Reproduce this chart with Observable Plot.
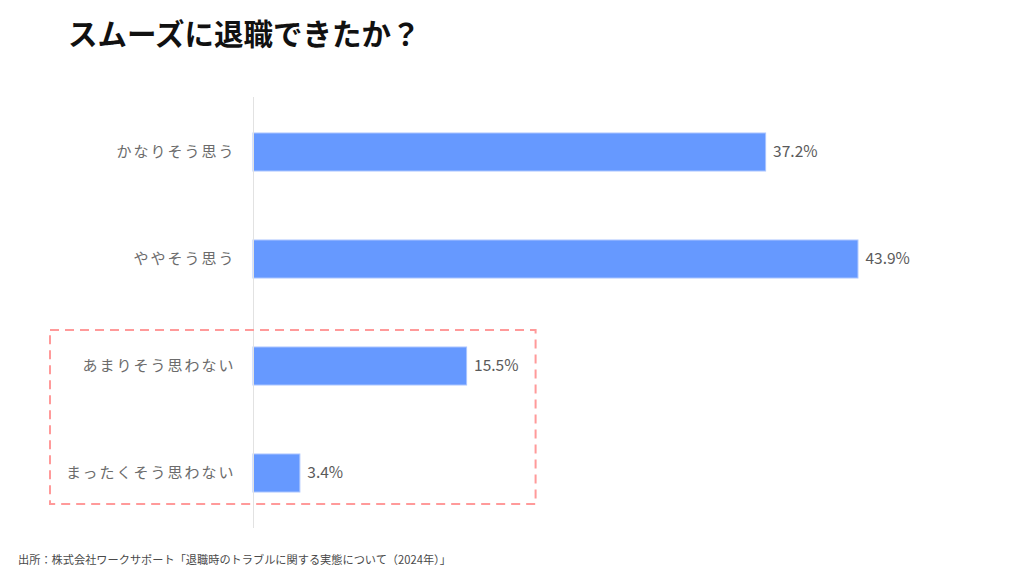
<!DOCTYPE html>
<html><head><meta charset="utf-8">
<script src="https://cdn.jsdelivr.net/npm/d3@7"></script>
<script src="https://cdn.jsdelivr.net/npm/@observablehq/plot@0.6"></script>
<style>
body{margin:0;background:#fff;font-family:"Noto Sans CJK JP","Noto Sans",sans-serif;}
#title{height:70px;box-sizing:border-box;padding:12px 0 0 68px;font-size:29.5px;font-weight:700;color:#111;line-height:40px;}
#cap{padding:11px 0 0 18px;font-size:11.2px;color:#4a4a4a;}
</style></head><body>
<div id="title">スムーズに退職できたか？</div>
<div id="chart"></div>
<div id="cap">出所：株式会社ワークサポート「退職時のトラブルに関する実態について（2024年）」</div>
<script>
const categories = ["かなりそう思う","ややそう思う","あまりそう思わない","まったくそう思わない"];
const values = [37.2, 43.9, 15.5, 3.4];
const highlighted = ["あまりそう思わない","まったくそう思わない"];
const data = categories.map((c,i)=>({cat:c, v:values[i]}));

const chart = Plot.plot({
  width: 1024, height: 470,
  marginTop: 27, marginBottom: 12, marginLeft: 253, marginRight: 82,
  style: {fontFamily: '"Noto Sans CJK JP","Noto Sans",sans-serif', background: "transparent"},
  x: {domain: [0, 50], axis: null},
  y: {domain: categories, paddingInner: 0.647, paddingOuter: 0.3235, label: null},
  marks: [
    Plot.barX(data, {x: "v", y: "cat", fill: "#6699ff", stroke: "#a9c4ff", strokeWidth: 1}),
    Plot.ruleX([0], {stroke: "#e2e2e2", strokeWidth: 1}),
    Plot.axisY({tickSize: 0, tickPadding: 18, fontSize: 15, fill: "#6b6b6b", label: null}),
    Plot.text(data, {x: "v", y: "cat", text: d => d.v.toFixed(1) + "%", dx: 7, textAnchor: "start", fontSize: 15.5, fill: "#5a5a5a"})
  ]
});
chart.querySelectorAll("g[aria-label='y-axis tick label'] text").forEach(t => t.setAttribute("letter-spacing", "2"));

// highlight box around the lower two categories, positioned via the chart's scales
{
  const xs = chart.scale("x"), ys = chart.scale("y");
  const bw = ys.bandwidth;
  const boxTop = ys.apply(highlighted[0]) - 17;
  const boxBottom = ys.apply(highlighted[highlighted.length-1]) + bw + 12;
  const boxLeft = xs.apply(0) - 203;
  const boxRight = xs.apply(values[2]) + 69;
  d3.select(chart).append("rect")
    .attr("x", boxLeft).attr("y", boxTop).attr("width", boxRight-boxLeft).attr("height", boxBottom-boxTop)
    .attr("fill","none").attr("stroke","#ff9a9a").attr("stroke-width",2)
    .attr("stroke-dasharray","9,6");
}

document.getElementById("chart").appendChild(chart);
</script>
</body></html>
